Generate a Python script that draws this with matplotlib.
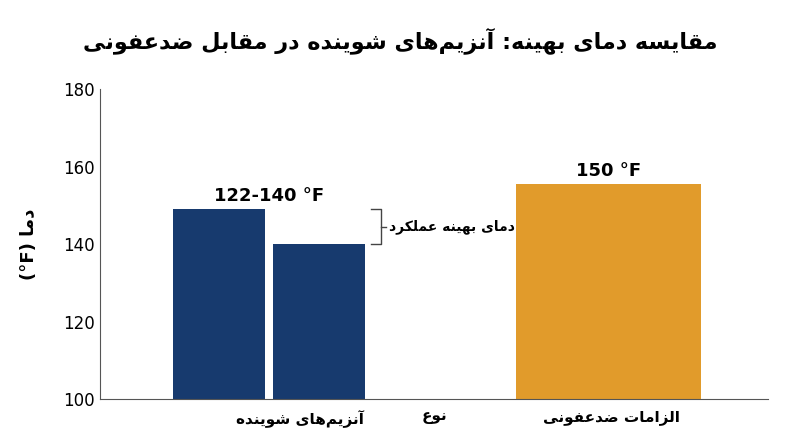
import matplotlib.pyplot as plt

# simple arabic/persian shaping (no reshaper lib available)
FORMS = {
    'ا': (0xFE8D, 0xFE8E, None, None), 'آ': (0xFE81, 0xFE82, None, None),
    'ب': (0xFE8F, 0xFE90, 0xFE91, 0xFE92), 'ت': (0xFE95, 0xFE96, 0xFE97, 0xFE98),
    'د': (0xFEA9, 0xFEAA, None, None), 'ر': (0xFEAD, 0xFEAE, None, None),
    'ز': (0xFEAF, 0xFEB0, None, None), 'س': (0xFEB1, 0xFEB2, 0xFEB3, 0xFEB4),
    'ش': (0xFEB5, 0xFEB6, 0xFEB7, 0xFEB8), 'ض': (0xFEBD, 0xFEBE, 0xFEBF, 0xFEC0),
    'ع': (0xFEC9, 0xFECA, 0xFECB, 0xFECC), 'ف': (0xFED1, 0xFED2, 0xFED3, 0xFED4),
    'ق': (0xFED5, 0xFED6, 0xFED7, 0xFED8), 'ل': (0xFEDD, 0xFEDE, 0xFEDF, 0xFEE0),
    'م': (0xFEE1, 0xFEE2, 0xFEE3, 0xFEE4), 'ن': (0xFEE5, 0xFEE6, 0xFEE7, 0xFEE8),
    'ه': (0xFEE9, 0xFEEA, 0xFEEB, 0xFEEC), 'و': (0xFEED, 0xFEEE, None, None),
    'ی': (0xFBFC, 0xFBFD, 0xFBFE, 0xFBFF), 'ک': (0xFB8E, 0xFB8F, 0xFB90, 0xFB91),
}


def rtl(s):
    out = []
    for i, c in enumerate(s):
        if c == '\u200c':
            continue
        if c not in FORMS:
            out.append(c)
            continue
        prev = s[i-1] if i > 0 else ''
        nxt = s[i+1] if i + 1 < len(s) else ''
        pj = prev in FORMS and FORMS[prev][2] is not None
        nj = nxt in FORMS and FORMS[c][2] is not None
        iso, fin, ini, med = FORMS[c]
        if pj and nj:
            out.append(chr(med))
        elif pj:
            out.append(chr(fin))
        elif nj:
            out.append(chr(ini))
        else:
            out.append(chr(iso))
    return ''.join(out)[::-1]


title = "مقایسه دمای بهینه: آنزیم\u200cهای شوینده در مقابل ضدعفونی"
categories = ["آنزیم\u200cهای شوینده", "الزامات ضدعفونی"]
enzyme_temps = [149, 140]
sanitizer_temp = 155.5
enzyme_label = "122-140 °F"
sanitizer_label = "150 °F"
bracket_text = "دمای بهینه عملکرد"

plt.rcParams['font.family'] = ['DejaVu Sans']
fig = plt.figure(figsize=(8, 4.47), dpi=100)
ax = fig.add_axes([0.125, 0.107, 0.835, 0.693])

blue = "#173a6e"
orange = "#e19b2b"
ax.bar([0.178, 0.328], enzyme_temps, width=0.138, color=blue)
ax.bar([0.761], [sanitizer_temp], width=0.277, color=orange)
ax.text(0.253, max(enzyme_temps) + 1.2, enzyme_label, ha='center', va='bottom',
        fontsize=13, fontweight='bold')
ax.text(0.761, sanitizer_temp + 1.2, sanitizer_label, ha='center', va='bottom',
        fontsize=13, fontweight='bold')

# bracket
bx = 0.42
ax.plot([bx - 0.015, bx, bx, bx - 0.015],
        [enzyme_temps[0], enzyme_temps[0], enzyme_temps[1], enzyme_temps[1]],
        color='#444444', lw=1)
ax.plot([bx, bx + 0.008], [144.5, 144.5], color='#444444', lw=1)
ax.text(bx + 0.012, 144.5, rtl(bracket_text), ha='left', va='center',
        fontsize=10, fontweight='bold')

ax.set_xlim(0, 1)
ax.set_ylim(100, 180)
ax.set_yticks([100, 120, 140, 160, 180])
ax.tick_params(axis='y', labelsize=12, length=0)
ax.set_xticks([0.30, 0.765])
ax.set_xticklabels([rtl(c) for c in categories], fontsize=11, fontweight='bold')
ax.tick_params(axis='x', length=0, pad=8)
ax.set_xlabel(rtl("نوع"), fontsize=11, fontweight='bold', labelpad=-14)
ax.set_ylabel("(°F) " + rtl("دما"), fontsize=13, fontweight='bold', labelpad=18)
for s in ['top', 'right']:
    ax.spines[s].set_visible(False)
for s in ['left', 'bottom']:
    ax.spines[s].set_color('#555555')

fig.suptitle(rtl(title), fontsize=16, fontweight='bold', y=0.94)
fig.savefig("out.png", dpi=100)
